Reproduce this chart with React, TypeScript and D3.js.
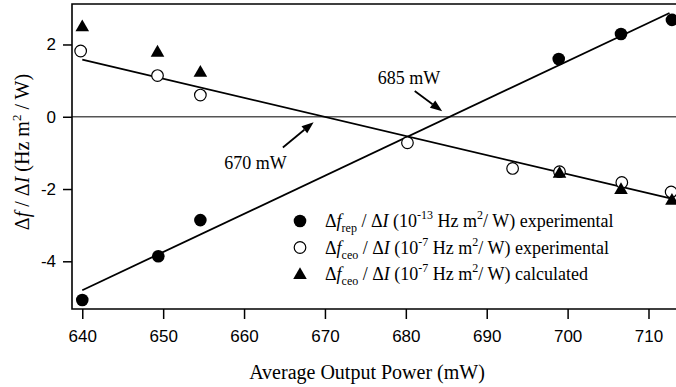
import { useEffect, useRef } from 'react'
import * as d3 from 'd3'

// power (mW) for each set of measurements
const repPower = [640, 649.4, 654.6, 698.9, 706.6, 712.9]
const repValues = [-5.07, -3.86, -2.86, 1.6, 2.29, 2.68]
const ceoPower = [639.8, 649.3, 654.6, 680.2, 693.2, 699.0, 706.7, 712.8]
const ceoValues = [1.82, 1.14, 0.6, -0.72, -1.43, -1.52, -1.82, -2.08]
const calcPower = [640, 649.3, 654.6, 699.0, 706.6, 712.9]
const calcValues = [2.5, 1.8, 1.24, -1.55, -2.0, -2.3]
// fitted lines (start / end)
const repFit: [number, number][] = [[640, -4.8], [712.6, 2.87]]
const ceoFit: [number, number][] = [[640, 1.58], [713.1, -2.28]]
const xTicks = [640, 650, 660, 670, 680, 690, 700, 710]
const yTicks = [-4, -2, 0, 2]
// annotations: [label, textX, textY, arrowFromX, arrowFromY, arrowToX, arrowToY]
const notes: [string, number, number, number, number, number, number][] = [
  ['670 mW', 661.4, -1.26, 664.8, -0.85, 668.6, -0.15],
  ['685 mW', 680.4, 1.08, 681.1, 0.71, 684.5, 0.15],
]

export default function App() {
  const ref = useRef<HTMLDivElement>(null)

  useEffect(() => {
    if (!ref.current) return
    const el = ref.current
    el.innerHTML = ''
    const width = 676
    const height = 387
    const left = 72, right = 676, top = 4, bottom = 309
    const sans = '"Liberation Sans", Arial, sans-serif'
    const serif = '"Liberation Serif", "Times New Roman", serif'

    const svg = d3.select(el).append('svg')
      .attr('width', width).attr('height', height)
      .style('position', 'absolute').style('left', '0px').style('top', '0px')
      .style('background', '#fff')

    const x = d3.scaleLinear().domain([638.73, 713.4]).range([left, right])
    const y = d3.scaleLinear().domain([-5.32, 3.12]).range([bottom, top])

    // zero line
    svg.append('line').attr('x1', left).attr('x2', right).attr('y1', y(0)).attr('y2', y(0))
      .attr('stroke', '#555').attr('stroke-width', 1.3)

    // axes
    const xa = svg.append('g').attr('transform', `translate(0,${bottom})`)
      .call(d3.axisBottom(x).tickValues(xTicks).tickSize(10).tickPadding(11).tickFormat(d3.format('d')))
    xa.select('.domain').remove()
    xa.selectAll('line').attr('stroke-width', 1.5)
    xa.selectAll('text').style('font-family', sans).style('font-size', '17px').attr('fill', '#000')

    const ya = svg.append('g').attr('transform', `translate(${left},0)`)
      .call(d3.axisLeft(y).tickValues(yTicks).tickSize(9).tickPadding(7).tickFormat(d => `${d}`.replace('−', '-')))
    ya.select('.domain').remove()
    ya.selectAll('line').attr('stroke-width', 1.5)
    ya.selectAll('text').style('font-family', sans).style('font-size', '17px').attr('fill', '#000')

    // frame
    svg.append('path').attr('d', `M${right},${top}H${left}V${bottom}H${right}`)
      .attr('fill', 'none').attr('stroke', '#000').attr('stroke-width', 1.6)

    const line = d3.line<[number, number]>().x(d => x(d[0])).y(d => y(d[1]))
    ;[repFit, ceoFit].forEach(f => {
      svg.append('path').datum(f).attr('d', line).attr('fill', 'none')
        .attr('stroke', '#000').attr('stroke-width', 1.8)
    })

    const tri = d3.symbol().type(d3.symbolTriangle).size(80)
    const drawCircle = (cx: number, cy: number, filled: boolean) => {
      svg.append('circle').attr('cx', cx).attr('cy', cy).attr('r', filled ? 6.3 : 5.8)
        .attr('fill', filled ? '#000' : '#fff').attr('stroke', '#000').attr('stroke-width', filled ? 0 : 1.2)
    }
    const drawTri = (cx: number, cy: number) => {
      svg.append('path').attr('d', tri).attr('transform', `translate(${cx},${cy + 1})`).attr('fill', '#000')
    }

    ceoPower.forEach((p, i) => drawCircle(x(p), y(ceoValues[i]), false))
    calcPower.forEach((p, i) => drawTri(x(p), y(calcValues[i])))
    repPower.forEach((p, i) => drawCircle(x(p), y(repValues[i]), true))

    // annotations with arrows
    notes.forEach(([label, tx, ty, fx, fy, hx, hy]) => {
      svg.append('text').attr('x', x(tx)).attr('y', y(ty)).attr('dy', '0.35em')
        .attr('text-anchor', 'middle').style('font-family', serif).style('font-size', '18px').text(label)
      const x1 = x(fx), y1 = y(fy), x2 = x(hx), y2 = y(hy)
      const ang = Math.atan2(y2 - y1, x2 - x1)
      const len = 12, w = 4.5
      const bx = x2 - len * Math.cos(ang), by = y2 - len * Math.sin(ang)
      svg.append('line').attr('x1', x1).attr('y1', y1).attr('x2', bx).attr('y2', by)
        .attr('stroke', '#000').attr('stroke-width', 1.8)
      svg.append('path')
        .attr('d', `M${x2},${y2}L${bx + w * Math.sin(ang)},${by - w * Math.cos(ang)}L${bx - w * Math.sin(ang)},${by + w * Math.cos(ang)}Z`)
        .attr('fill', '#000')
    })

    // legend
    const legendRows = [
      { kind: 'filled', sub: 'rep', exp: '-13', tail: 'experimental' },
      { kind: 'open', sub: 'ceo', exp: '-7', tail: 'experimental' },
      { kind: 'tri', sub: 'ceo', exp: '-7', tail: 'calculated' },
    ]
    legendRows.forEach((r, i) => {
      const cy = 221 + i * 26.5
      if (r.kind === 'tri') drawTri(300, cy)
      else drawCircle(300, cy, r.kind === 'filled')
      const t = svg.append('text').attr('x', 325).attr('y', cy + 6)
        .style('font-family', serif).style('font-size', '18px')
      t.append('tspan').text('Δ')
      t.append('tspan').style('font-style', 'italic').text('f')
      t.append('tspan').attr('dy', 5).style('font-size', '12px').text(r.sub)
      t.append('tspan').attr('dy', -5).text(' / Δ')
      t.append('tspan').style('font-style', 'italic').text('I')
      t.append('tspan').text(' (10')
      t.append('tspan').attr('dy', -8).style('font-size', '12px').text(r.exp)
      t.append('tspan').attr('dy', 8).text(' Hz m')
      t.append('tspan').attr('dy', -8).style('font-size', '12px').text('2')
      t.append('tspan').attr('dy', 8).text('/ W) ' + r.tail)
    })

    // axis titles
    svg.append('text').attr('x', (left + right) / 2 - 7).attr('y', 379)
      .attr('text-anchor', 'middle').style('font-family', serif).style('font-size', '20px')
      .text('Average Output Power (mW)')

    const yt = svg.append('text').attr('transform', `translate(29,${152}) rotate(-90)`)
      .attr('text-anchor', 'middle').style('font-family', serif).style('font-size', '20px')
    yt.append('tspan').text('Δ')
    yt.append('tspan').style('font-style', 'italic').text('f')
    yt.append('tspan').text(' / Δ')
    yt.append('tspan').style('font-style', 'italic').text('I')
    yt.append('tspan').text(' (Hz m')
    yt.append('tspan').attr('dy', -8).style('font-size', '13px').text('2')
    yt.append('tspan').attr('dy', 8).text(' / W)')

    return () => { el.innerHTML = '' }
  }, [])

  return <div ref={ref} />
}
